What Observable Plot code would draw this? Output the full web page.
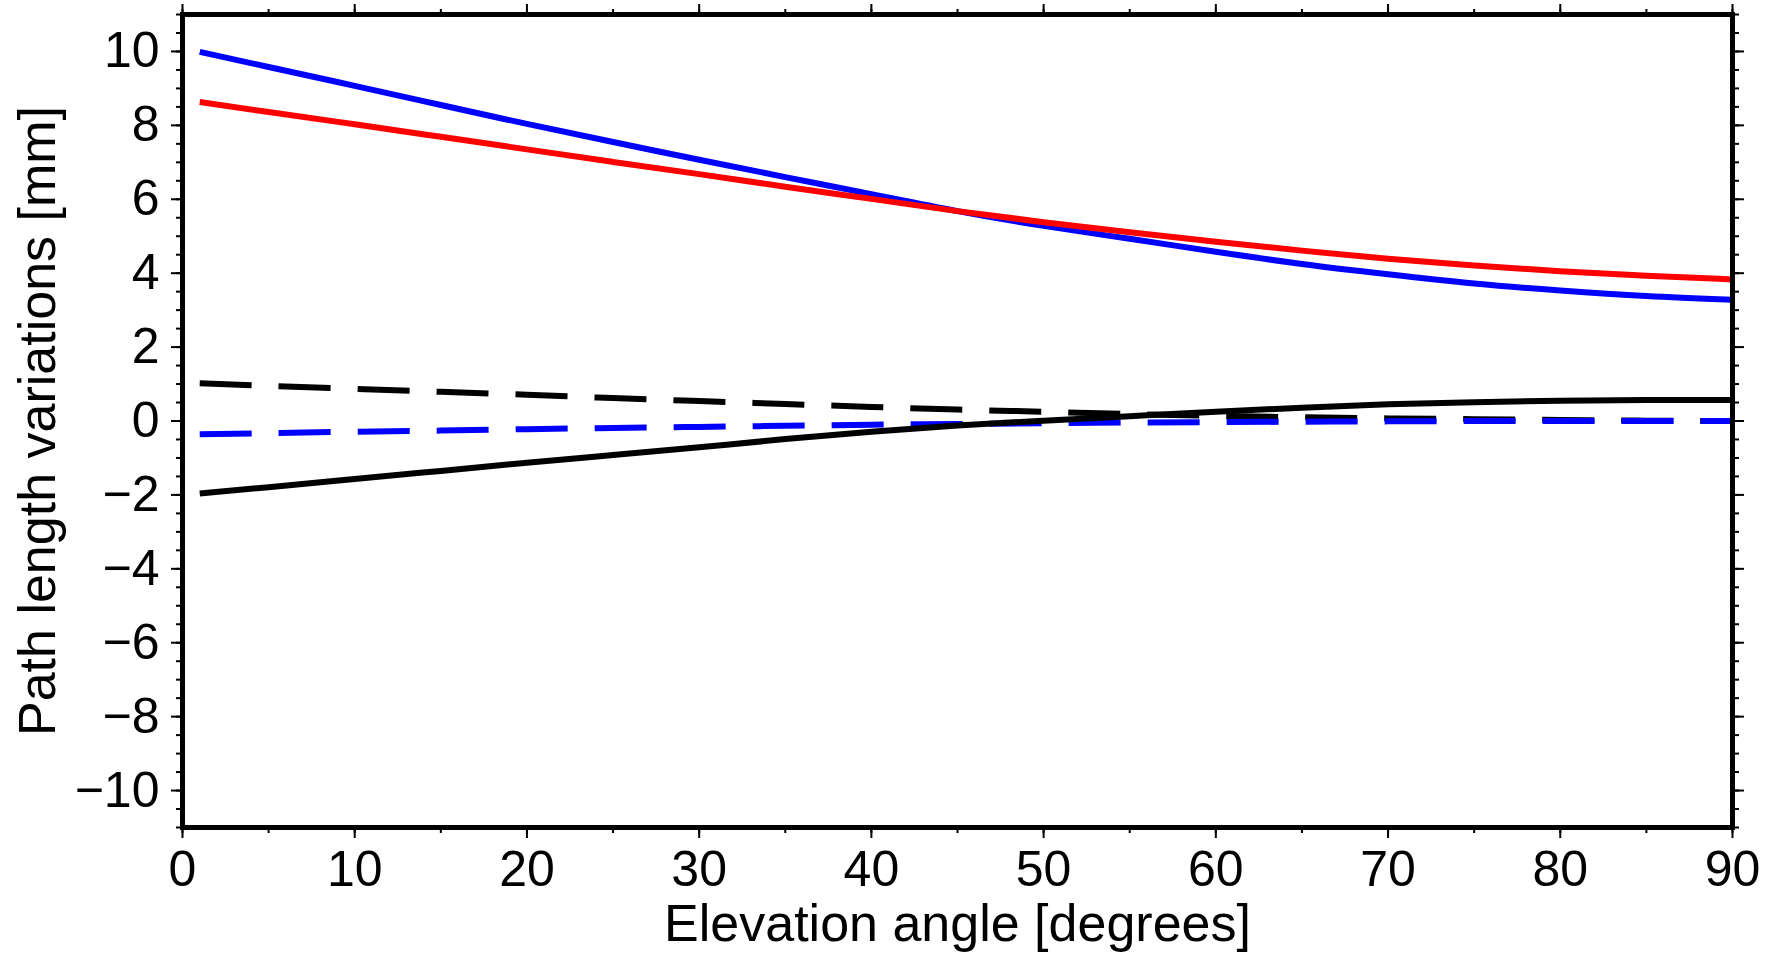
<!DOCTYPE html>
<html><head><meta charset="utf-8">
<script src="https://cdn.jsdelivr.net/npm/d3@7"></script>
<script src="https://cdn.jsdelivr.net/npm/@observablehq/plot@0.6"></script>
<style>body{margin:0;background:#fff}</style>
</head><body><div id="chart"></div>
<script>
const elevation  = [1, 5, 10, 15, 20, 25, 30, 35, 40, 45, 50, 55, 60, 65, 70, 75, 80, 85, 90];
const blueSolid  = [9.99, 9.58, 9.07, 8.55, 8.04, 7.55, 7.07, 6.60, 6.14, 5.68, 5.28, 4.93, 4.58, 4.25, 3.97, 3.72, 3.53, 3.38, 3.28];
const redSolid   = [8.63, 8.36, 8.03, 7.69, 7.35, 7.01, 6.68, 6.34, 6.01, 5.68, 5.38, 5.11, 4.85, 4.61, 4.39, 4.21, 4.05, 3.93, 3.83];
const blackDash  = [1.02, 0.95, 0.87, 0.79, 0.71, 0.62, 0.54, 0.46, 0.38, 0.31, 0.25, 0.19, 0.14, 0.10, 0.07, 0.05, 0.03, 0.01, 0.00];
const blueDash   = [-0.36, -0.33, -0.29, -0.26, -0.22, -0.19, -0.16, -0.13, -0.10, -0.08, -0.06, -0.04, -0.03, -0.02, -0.01, 0.00, 0.00, 0.00, 0.00];
const blackSolid = [-1.96, -1.79, -1.57, -1.35, -1.13, -0.92, -0.71, -0.49, -0.29, -0.12, 0.01, 0.13, 0.25, 0.36, 0.45, 0.51, 0.55, 0.57, 0.57];

const xMajor = [0, 10, 20, 30, 40, 50, 60, 70, 80, 90];
const xMinor = d3.range(0, 91, 5);
const yMajor = [-10, -8, -6, -4, -2, 0, 2, 4, 6, 8, 10];
const yMinor = d3.range(-22, 23).map(k => k / 2);

const xLabel = "Elevation angle [degrees]";
const yLabel = "Path length variations [mm]";

const rows = vals => elevation.map((e, i) => ({e, v: vals[i]}));

const lineOpts = (stroke, dashed) => ({
  x: "e", y: "v", stroke, strokeWidth: 6, curve: "natural",
  strokeLinecap: "butt", strokeDasharray: dashed ? "52,27" : null
});

const chart = Plot.plot({
  width: 1779,
  height: 954,
  marginLeft: 182,
  marginRight: 47,
  marginTop: 14,
  marginBottom: 127,
  style: {fontFamily: "'Liberation Sans', Arial, Helvetica, sans-serif", color: "black", background: "white"},
  x: {domain: [0, 90]},
  y: {domain: [-11, 11]},
  marks: [
    Plot.line(rows(blackDash), lineOpts("black", true)),
    Plot.line(rows(blueDash), lineOpts("#0000ff", true)),
    Plot.line(rows(blackSolid), lineOpts("black", false)),
    Plot.line(rows(blueSolid), lineOpts("#0000ff", false)),
    Plot.line(rows(redSolid), lineOpts("#ff0000", false)),
    Plot.axisX({anchor: "bottom", ticks: xMajor, tickSize: 11, tickPadding: 12, fontSize: 50, strokeWidth: 2, label: null}),
    Plot.axisX({anchor: "bottom", ticks: xMinor, tickSize: 6, strokeWidth: 2, tickFormat: () => "", label: null}),
    Plot.axisX({anchor: "top", ticks: xMajor, tickSize: 11, strokeWidth: 2, tickFormat: () => "", label: null}),
    Plot.axisX({anchor: "top", ticks: xMinor, tickSize: 6, strokeWidth: 2, tickFormat: () => "", label: null}),
    Plot.axisY({anchor: "left", ticks: yMajor, tickSize: 11, tickPadding: 12, fontSize: 50, strokeWidth: 2, label: null}),
    Plot.axisY({anchor: "left", ticks: yMinor, tickSize: 6, strokeWidth: 2, tickFormat: () => "", label: null}),
    Plot.axisY({anchor: "right", ticks: yMajor, tickSize: 11, strokeWidth: 2, tickFormat: () => "", label: null}),
    Plot.axisY({anchor: "right", ticks: yMinor, tickSize: 6, strokeWidth: 2, tickFormat: () => "", label: null}),
    Plot.frame({stroke: "black", strokeWidth: 5}),
    Plot.text([xLabel], {frameAnchor: "bottom", text: d => d, dy: 113, lineAnchor: "bottom", fontSize: 52, fill: "black"}),
    Plot.text([yLabel], {frameAnchor: "left", text: d => d, rotate: -90, dx: -128, lineAnchor: "bottom", textAnchor: "middle", fontSize: 52, fill: "black"})
  ]
});
document.getElementById("chart").appendChild(chart);
</script>
</body></html>
